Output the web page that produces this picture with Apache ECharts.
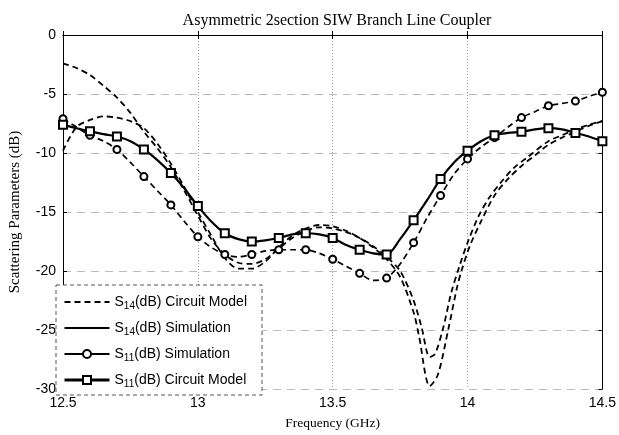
<!DOCTYPE html>
<html><head><meta charset="utf-8">
<script src="https://cdn.jsdelivr.net/npm/echarts@6/dist/echarts.min.js"></script>
<style>html,body{margin:0;padding:0;background:#fff}#c{width:619px;height:435px}</style>
</head><body><div id="c"></div>
<script>
// ---- data ----
const titleText = 'Asymmetric 2section SIW Branch Line Coupler';
const xTicks = [12.5, 13, 13.5, 14, 14.5];
const yTicks = [-30, -25, -20, -15, -10, -5, 0];
const seriesNames = ['S14 Circuit Model', 'S14 Simulation', 'S11 Simulation', 'S11 Circuit Model'];

// common frequency grid (GHz) for S11 curves
const freqGrid = [12.5,12.55,12.6,12.65,12.7,12.75,12.8,12.85,12.9,12.95,13.0,13.05,13.1,13.15,13.2,13.25,13.3,13.35,13.4,13.45,13.5,13.55,13.6,13.65,13.7,13.75,13.8,13.85,13.9,13.95,14.0,14.05,14.1,14.15,14.2,14.25,14.3,14.35,14.4,14.45,14.5];

const s11Sim = [-7.1,-7.8,-8.5,-9.0,-9.7,-10.8,-12.0,-13.2,-14.4,-15.8,-17.1,-18.0,-18.6,-18.8,-18.6,-18.3,-18.2,-18.2,-18.2,-18.5,-19.0,-19.6,-20.2,-20.8,-20.6,-19.4,-17.6,-15.5,-13.6,-11.8,-10.5,-9.5,-8.7,-7.8,-7.0,-6.5,-6.0,-5.8,-5.6,-5.2,-4.85];

const s11Model = [-7.6,-7.9,-8.15,-8.4,-8.6,-9.0,-9.7,-10.6,-11.7,-13.0,-14.5,-15.8,-16.8,-17.3,-17.5,-17.4,-17.2,-16.9,-16.8,-16.9,-17.2,-17.8,-18.2,-18.5,-18.6,-17.3,-15.7,-14.0,-12.2,-10.8,-9.8,-9.0,-8.5,-8.3,-8.2,-8.0,-7.9,-8.0,-8.3,-8.6,-9.0];

const freqS14Model = [12.5,12.55,12.6,12.65,12.7,12.75,12.8,12.85,12.9,12.95,13.0,13.05,13.1,13.15,13.2,13.25,13.3,13.35,13.4,13.45,13.5,13.55,13.6,13.65,13.7,13.75,13.8,13.83,13.86,13.88,13.91,13.94,13.97,14.0,14.04,14.08,14.12,14.17,14.22,14.3,14.35,14.4,14.45,14.5];
const s14Model = [-2.4,-2.8,-3.4,-4.3,-5.3,-6.6,-8.2,-9.6,-11.2,-13.2,-15.3,-17.3,-18.6,-19.3,-19.4,-19.0,-18.1,-17.2,-16.6,-16.3,-16.4,-16.7,-17.2,-17.9,-18.8,-20.0,-22.5,-24.8,-27.3,-27.0,-24.8,-21.8,-19.6,-17.6,-15.4,-13.8,-12.6,-11.3,-10.4,-9.0,-8.5,-8.0,-7.6,-7.3];

const freqS14Sim = [12.5,12.55,12.6,12.65,12.7,12.75,12.8,12.85,12.9,12.95,13.0,13.05,13.1,13.15,13.2,13.25,13.3,13.35,13.4,13.45,13.5,13.55,13.6,13.65,13.7,13.75,13.8,13.82,13.86,13.89,13.93,13.96,13.98,14.01,14.05,14.1,14.15,14.2,14.25,14.3,14.35,14.4,14.45,14.5];
const s14Sim = [-9.8,-7.8,-7.2,-6.9,-7.0,-7.3,-7.9,-9.2,-10.9,-12.9,-15.0,-17.0,-18.9,-19.8,-19.8,-19.2,-18.0,-17.0,-16.4,-16.1,-16.2,-16.6,-17.2,-18.0,-19.0,-20.5,-23.5,-25.5,-29.75,-28.8,-24.8,-21.5,-19.8,-17.8,-15.8,-13.6,-12.2,-11.1,-10.2,-9.3,-8.7,-8.2,-7.7,-7.3];

// ---- build ----
const pairs = (xs, ys) => xs.map((x, i) => [x, ys[i]]);
const legendLabels = {
  'S14 Circuit Model': '{n|S}{s|14}{n|(dB) Circuit Model}',
  'S14 Simulation': '{n|S}{s|14}{n|(dB) Simulation}',
  'S11 Simulation': '{n|S}{s|11}{n|(dB) Simulation}',
  'S11 Circuit Model': '{n|S}{s|11}{n|(dB) Circuit Model}'
};
const everyOther = (size) => (v, p) => (p.dataIndex % 2 === 0 ? size : 0);
const serif = 'Liberation Serif';
const sans = 'Liberation Sans';
const dash = [6, 4];

const chart = echarts.init(document.getElementById('c'), null, {renderer: 'canvas'});
chart.setOption({
  animation: false,
  backgroundColor: '#fff',
  title: {
    text: titleText, left: 332, top: 8, textAlign: 'center',
    textStyle: {fontFamily: serif, fontSize: 16, fontWeight: 'normal', color: '#000'}
  },
  grid: {left: 57, right: 16, top: 35, bottom: 40},
  xAxis: [{
    type: 'value', min: 12.5, max: 14.5, interval: 0.5,
    name: 'Frequency (GHz)', nameLocation: 'middle', nameGap: 27,
    nameTextStyle: {fontFamily: serif, fontSize: 13.5, color: '#000'},
    axisLine: {lineStyle: {color: '#000', width: 1}},
    axisTick: {inside: true, length: 4, lineStyle: {color: '#000'}},
    axisLabel: {margin: 7, fontFamily: sans, fontSize: 14, color: '#000',
      formatter: v => String(xTicks.find(t => Math.abs(t - v) < 1e-9) ?? v)},
    splitLine: {show: true, lineStyle: {color: '#999', type: [1, 2], width: 1}}
  }, {
    type: 'value', position: 'top', min: 12.5, max: 14.5, interval: 0.5,
    axisLine: {lineStyle: {color: '#000'}},
    axisTick: {inside: true, length: 4, lineStyle: {color: '#000'}},
    axisLabel: {show: false}, splitLine: {show: false}
  }],
  yAxis: [{
    type: 'value', min: -30, max: 0, interval: 5,
    name: 'Scattering Parameters (dB)', nameLocation: 'middle', nameGap: 40,
    nameTextStyle: {fontFamily: serif, fontSize: 15, color: '#000'},
    axisLine: {lineStyle: {color: '#000', width: 1}},
    axisTick: {inside: true, length: 4, lineStyle: {color: '#000'}},
    axisLabel: {margin: 7, fontFamily: sans, fontSize: 14, color: '#000',
      formatter: v => String(yTicks.find(t => Math.abs(t - v) < 1e-9) ?? v)},
    splitLine: {show: true, lineStyle: {color: '#bbb', type: [8, 6], width: 1.2}}
  }, {
    type: 'value', position: 'right', min: -30, max: 0, interval: 5,
    axisLine: {show: true, lineStyle: {color: '#000'}},
    axisTick: {show: true, inside: true, length: 4, lineStyle: {color: '#000'}},
    axisLabel: {show: false}, splitLine: {show: false}
  }],
  legend: {
    orient: 'vertical', left: 58, top: 290, padding: 5,
    itemWidth: 45, itemHeight: 10, itemGap: 10,
    textStyle: {fontFamily: sans, fontSize: 14, color: '#000',
      rich: {n: {fontFamily: sans, fontSize: 14, color: '#000'},
             s: {fontFamily: sans, fontSize: 10, color: '#000', padding: [8, 0, 0, 0]}}},
    formatter: name => legendLabels[name],
    data: [
      {name: seriesNames[0], itemStyle: {opacity: 0}, lineStyle: {type: dash, width: 2, color: '#000'}},
      {name: seriesNames[1], itemStyle: {opacity: 0}, lineStyle: {type: 'solid', width: 2, color: '#000'}},
      {name: seriesNames[2], lineStyle: {type: 'solid', width: 2, color: '#000'}},
      {name: seriesNames[3], lineStyle: {type: 'solid', width: 3, color: '#000'}}
    ]
  },
  graphic: [{
    type: 'rect', z: 3,
    shape: {x: 56, y: 285, width: 206, height: 110},
    style: {fill: '#fff', stroke: '#555', lineWidth: 1, lineDash: [4, 3]}
  }],
  series: [
    {name: seriesNames[0], type: 'line', data: pairs(freqS14Model, s14Model),
     smooth: 0.3, showSymbol: false, symbol: 'none',
     lineStyle: {color: '#000', width: 1.8, type: dash}, itemStyle: {color: '#000'}},
    {name: seriesNames[1], type: 'line', data: pairs(freqS14Sim, s14Sim),
     smooth: 0.3, showSymbol: false, symbol: 'none',
     lineStyle: {color: '#000', width: 1.8, type: dash}, itemStyle: {color: '#000'}},
    {name: seriesNames[2], type: 'line', data: pairs(freqGrid, s11Sim),
     smooth: 0.3, symbol: 'emptyCircle', symbolSize: everyOther(7), showAllSymbol: true,
     lineStyle: {color: '#000', width: 1.7, type: dash},
     itemStyle: {color: '#000', borderColor: '#000', borderWidth: 1.3}},
    {name: seriesNames[3], type: 'line', data: pairs(freqGrid, s11Model),
     smooth: 0.3, symbol: 'emptyRect', symbolSize: everyOther(8), showAllSymbol: true,
     lineStyle: {color: '#000', width: 2.2},
     itemStyle: {color: '#000', borderColor: '#000', borderWidth: 1.3}}
  ]
});
</script>
</body></html>
